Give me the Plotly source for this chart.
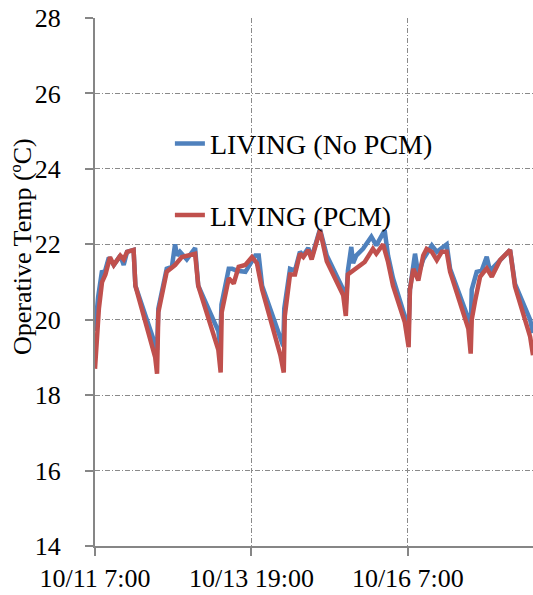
import plotly.graph_objects as go
import pandas as pd

start = pd.Timestamp("2013-10-11 07:00")

# hours since 10/11 7:00 and temperatures (°C)
nopcm_hours = [0, 1.2, 2.7, 3.5, 5.3, 7.2, 9.7, 11.0, 12.3, 14.8, 15.5, 23.1, 23.8,
               24.3, 27.5, 29.5, 30.7, 31.5, 32.6, 35.2, 38.4, 39.6, 47.3, 48.0,
               48.5, 51.3, 52.6, 54.5, 57.7, 61.5, 62.8, 64.1, 71.1, 72.2,
               72.6, 74.8, 76.7, 78.6, 79.9, 81.8, 83.1, 86.3, 88.9, 95.2, 96.2,
               97.0, 98.3, 99.0, 100.2, 102.8, 106.0, 107.9, 111.1, 112.4, 114.3, 118.8, 120.3,
               120.8, 122.1, 122.75, 124.0, 125.9, 129.2, 131.1, 134.9, 136.2, 143.2, 144.1,
               144.5, 146.4, 148.3, 150.25, 151.5, 155.35, 159.2, 161.1, 166.9, 168.0]
nopcm_temp = [19.7, 20.6, 21.3, 21.2, 21.65, 21.45, 21.7, 21.45, 21.8, 21.85, 20.9, 19.3, 19.2,
              20.3, 21.35, 21.4, 22.0, 21.7, 21.8, 21.6, 21.9, 20.9, 19.7, 19.3,
              20.4, 21.35, 21.35, 21.3, 21.27, 21.7, 21.7, 20.9, 19.5, 19.3,
              20.3, 21.35, 21.3, 21.8, 21.7, 21.9, 21.65, 22.4, 21.7, 20.8, 20.4,
              21.3, 21.93, 21.5, 21.7, 21.88, 22.2, 21.97, 22.37, 21.7, 21.1, 20.1, 19.76,
              20.8, 21.6, 21.75, 21.2, 21.6, 21.97, 21.8, 22.0, 21.35, 20.03, 19.7,
              20.8, 21.27, 21.3, 21.67, 21.3, 21.58, 21.85, 20.95, 20.0, 19.65]

pcm_hours = [0, 1.5, 2.7, 4.0, 5.75, 7.2, 9.7, 11.0, 12.3, 14.8, 15.5, 23.1, 23.8,
             24.3, 27.5, 30.7, 33.3, 38.4, 39.6, 47.3, 48.2,
             48.6, 51.3, 53.2, 55.1, 57.65, 60.2, 62.1, 64.1, 71.1, 72.4,
             72.8, 74.8, 76.7, 78.6, 79.9, 81.8, 83.1, 86.3, 88.9, 95.2, 96.2,
             97.0, 99.0, 101.5, 103.45, 106.6, 107.9, 110.5, 112.4, 114.3, 118.8, 120.3,
             120.8, 122.1, 124.0, 125.9, 127.2, 129.2, 131.1, 133.0, 134.9, 136.2, 143.2, 144.1,
             144.5, 145.8, 147.7, 150.25, 152.2, 155.35, 159.2, 161.1, 166.9, 168.0]
pcm_temp = [18.7, 20.3, 21.0, 21.2, 21.66, 21.45, 21.7, 21.6, 21.8, 21.85, 20.9, 19.0, 18.57,
            20.2, 21.27, 21.45, 21.66, 21.75, 20.9, 19.2, 18.6,
            20.2, 21.1, 20.96, 21.4, 21.45, 21.66, 21.5, 20.8, 19.06, 18.6,
            20.1, 21.2, 21.2, 21.75, 21.66, 21.85, 21.6, 22.37, 21.55, 20.65, 20.1,
            21.2, 21.3, 21.45, 21.53, 21.88, 21.75, 22.0, 21.53, 20.9, 19.94, 19.27,
            20.8, 21.35, 21.04, 21.7, 21.88, 21.8, 21.58, 21.8, 21.8, 21.27, 19.76, 19.1,
            20.0, 20.5, 21.14, 21.36, 21.14, 21.58, 21.85, 20.88, 19.55, 19.06]

tick_hours = [0, 60, 120]
tick_labels = ["10/11 7:00", "10/13 19:00", "10/16 7:00"]
y_ticks = [14, 16, 18, 20, 22, 24, 26, 28]
y_title = "Operative Temp (ºC)"

def to_time(hours):
    return [start + pd.Timedelta(hours=h) for h in hours]

FONT = "Liberation Serif"
GRID_DASH = "5px,2px,1px,2px"
fig = go.Figure()
fig.add_trace(go.Scatter(x=to_time(nopcm_hours), y=nopcm_temp, mode="lines",
                         name="LIVING (No PCM)", legendgroup="a",
                         line=dict(color="#4F81BD", width=4.5)))
fig.add_trace(go.Scatter(x=to_time(pcm_hours), y=pcm_temp, mode="lines",
                         name="LIVING (PCM)", legendgroup="b",
                         line=dict(color="#C0504D", width=4.5)))

fig.update_layout(
    width=533, height=595,
    margin=dict(l=95, r=0, t=18, b=49),
    paper_bgcolor="white", plot_bgcolor="white",
    font=dict(family=FONT, size=26, color="black"),
    showlegend=True,
    legend=dict(x=0.171, y=0.809, xanchor="left", yanchor="top",
                bgcolor="rgba(0,0,0,0)", font=dict(size=28, family=FONT, color="black"),
                tracegroupgap=32, traceorder="grouped"),
    annotations=[dict(text=y_title, textangle=-90, xref="paper", yref="paper",
                      x=-0.167, y=0.568, xanchor="center", yanchor="middle",
                      showarrow=False, font=dict(size=26, family=FONT, color="black"))],
)
fig.update_xaxes(
    type="date",
    range=[start, start + pd.Timedelta(hours=168)],
    tickvals=to_time(tick_hours), ticktext=tick_labels,
    showline=True, linecolor="#868686", linewidth=2,
    ticks="outside", ticklen=8, tickcolor="#868686", tickwidth=2,
    showgrid=True, gridcolor="#8a8a8a", gridwidth=1, griddash=GRID_DASH,
    zeroline=False, tickfont=dict(size=26, family=FONT, color="black"),
)
fig.update_yaxes(
    range=[14, 28], tickvals=y_ticks,
    showline=True, linecolor="#868686", linewidth=2,
    ticks="outside", ticklen=8, tickcolor="#868686", tickwidth=2,
    showgrid=True, gridcolor="#8a8a8a", gridwidth=1, griddash=GRID_DASH,
    zeroline=False, tickfont=dict(size=26, family=FONT, color="black"), ticklabelstandoff=19,
)
fig.write_html("out.html")
